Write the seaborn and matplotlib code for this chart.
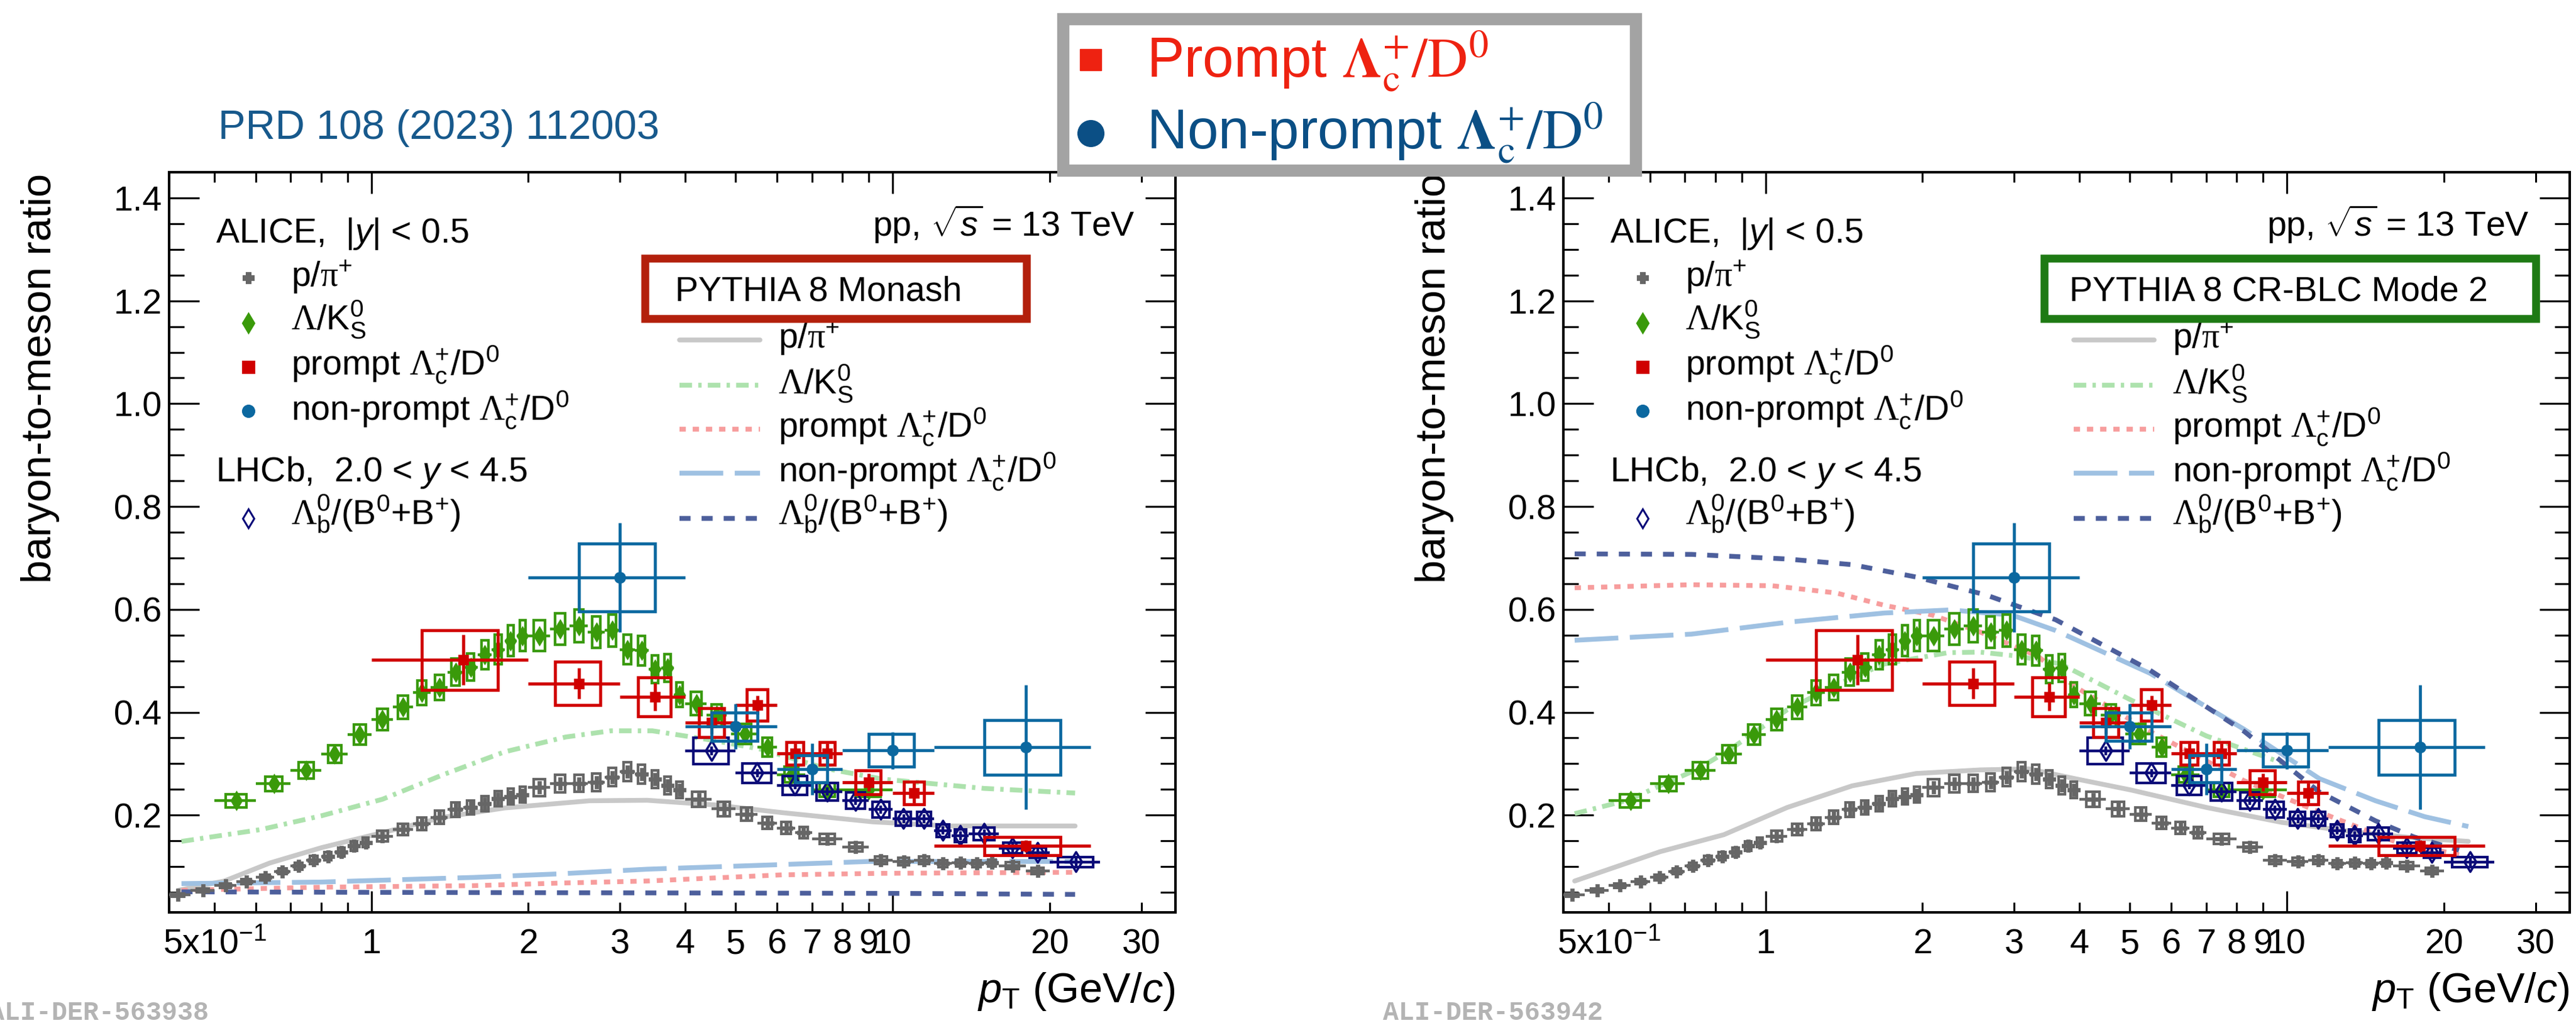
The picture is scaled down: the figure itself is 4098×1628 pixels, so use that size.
import numpy as np
import pandas as pd
import matplotlib
matplotlib.use("Agg")
import matplotlib.pyplot as plt
from matplotlib.patches import Rectangle
from matplotlib.lines import Line2D
from matplotlib.ticker import FixedLocator, FixedFormatter, MultipleLocator, FormatStrFormatter
import seaborn as sns

# ---------------- measured ratios ----------------
# ALICE p/pi+ (|y|<0.5)
pi_pt = [0.425, 0.475, 0.525, 0.575, 0.625, 0.675, 0.725, 0.775, 0.825, 0.875, 0.925, 0.975,
         1.05, 1.15, 1.25, 1.35, 1.45, 1.55, 1.65, 1.75, 1.85, 1.95,
         2.1, 2.3, 2.5, 2.7, 2.9, 3.1, 3.3, 3.5, 3.7, 3.9,
         4.25, 4.75, 5.25, 5.75, 6.25, 6.75,
         7.5, 8.5, 9.5, 10.5, 11.5, 12.5, 13.5, 14.5, 15.5, 17.0, 19.0]
pi_val = [0.045, 0.054, 0.063, 0.071, 0.079, 0.091, 0.101, 0.113, 0.120, 0.128, 0.140, 0.147,
          0.159, 0.172, 0.183, 0.196, 0.211, 0.215, 0.222, 0.232, 0.236, 0.240,
          0.254, 0.261, 0.262, 0.264, 0.274, 0.285, 0.280, 0.270, 0.258, 0.249,
          0.231, 0.212, 0.202, 0.185, 0.175, 0.166,
          0.154, 0.138, 0.112, 0.110, 0.112, 0.106, 0.107, 0.106, 0.107, 0.102, 0.092]
pi_xerr = [0.025] * 12 + [0.05] * 10 + [0.1] * 10 + [0.25] * 6 + [0.5] * 9 + [1.0] * 2
pi_sys_rel = 0.065

# ALICE Lambda/K0S
lk_pt = [0.55, 0.65, 0.75, 0.85, 0.95, 1.05, 1.15, 1.25, 1.35, 1.45, 1.55, 1.65, 1.75, 1.85, 1.95,
         2.1, 2.3, 2.5, 2.7, 2.9, 3.1, 3.3, 3.5, 3.7, 3.9,
         4.2, 4.6, 5.2, 5.75, 6.4, 7.5, 9.0]
lk_val = [0.228, 0.261, 0.287, 0.319, 0.357, 0.386, 0.410, 0.438, 0.448, 0.478, 0.488, 0.512, 0.522, 0.539, 0.549,
          0.549, 0.562, 0.568, 0.556, 0.559, 0.522, 0.520, 0.484, 0.486, 0.434,
          0.417, 0.394, 0.358, 0.332, 0.279, 0.249, 0.249]
lk_xerr = [0.05] * 15 + [0.1] * 10 + [0.2, 0.2, 0.3, 0.25, 0.4, 0.5, 1.0]
lk_sys_rel = 0.055

# ALICE prompt Lambda_c+/D0
pr_pt = [1.5, 2.5, 3.5, 4.5, 5.5, 6.5, 7.5, 9.0, 11.0, 18.0]
pr_xerr = [0.5, 0.5, 0.5, 0.5, 0.5, 0.5, 0.5, 1.0, 1.0, 6.0]
pr_val = [0.502, 0.456, 0.430, 0.380, 0.414, 0.320, 0.320, 0.264, 0.243, 0.140]
pr_stat = [0.049, 0.030, 0.027, 0.022, 0.018, 0.020, 0.020, 0.017, 0.020, 0.012]
pr_sys = [0.058, 0.042, 0.038, 0.028, 0.031, 0.022, 0.022, 0.023, 0.022, 0.018]

# ALICE non-prompt Lambda_c+/D0
np_pt = [3.0, 5.0, 7.0, 10.0, 18.0]
np_xerr = [1.0, 1.0, 1.0, 2.0, 6.0]
np_val = [0.662, 0.372, 0.290, 0.326, 0.332]
np_stat = [0.106, 0.044, 0.050, 0.036, 0.121]
np_sys = [0.066, 0.028, 0.026, 0.032, 0.053]

# LHCb Lambda_b0/(B0+B+)
lb_pt = [4.5, 5.5, 6.5, 7.5, 8.5, 9.5, 10.5, 11.5, 12.5, 13.5, 15.0, 17.0, 19.0, 22.5]
lb_xerr = [0.5] * 10 + [1.0, 1.0, 1.0, 2.5]
lb_val = [0.325, 0.282, 0.258, 0.246, 0.228, 0.211, 0.193, 0.193, 0.170, 0.160, 0.164, 0.136, 0.127, 0.109]
lb_stat = [0.008] * 14
lb_sys = [0.026, 0.019, 0.018, 0.017, 0.016, 0.015, 0.014, 0.014, 0.012, 0.012, 0.012, 0.010, 0.010, 0.010]

# ---------------- PYTHIA 8 Monash ----------------
mon_pi_pt = [0.426, 0.522, 0.638, 0.803, 1.05, 1.375, 1.80, 2.62, 3.38, 4.55, 6.13, 9.17, 12.9, 22.4]
mon_pi_val = [0.054, 0.072, 0.107, 0.137, 0.166, 0.196, 0.214, 0.228, 0.229, 0.220, 0.205, 0.187, 0.179, 0.179]
mon_lk_pt = [0.432, 0.613, 0.803, 1.05, 1.375, 1.80, 2.36, 2.88, 3.46, 4.55, 5.6, 7.5, 9.59, 15.0, 22.4]
mon_lk_val = [0.149, 0.172, 0.199, 0.231, 0.279, 0.323, 0.352, 0.364, 0.364, 0.345, 0.328, 0.290, 0.270, 0.252, 0.243]
mon_pr_pt = [0.432, 0.803, 1.57, 2.3, 3.38, 6.13, 9.6, 22.4]
mon_pr_val = [0.054, 0.060, 0.063, 0.068, 0.072, 0.084, 0.087, 0.089]
mon_np_pt = [0.432, 0.803, 1.57, 2.3, 3.38, 6.13, 9.0, 22.4]
mon_np_val = [0.067, 0.070, 0.079, 0.086, 0.095, 0.104, 0.110, 0.110]
mon_lb_pt = [0.432, 1.0, 3.0, 10.0, 22.4]
mon_lb_val = [0.051, 0.050, 0.049, 0.048, 0.046]

# ---------------- PYTHIA 8 CR-BLC Mode 2 ----------------
cr_pi_pt = [0.43, 0.627, 0.831, 1.10, 1.465, 1.944, 2.58, 3.2, 3.92, 5.02, 7.01, 9.78, 13.6, 17.5, 22.3]
cr_pi_val = [0.072, 0.129, 0.162, 0.215, 0.257, 0.281, 0.288, 0.290, 0.271, 0.249, 0.215, 0.186, 0.167, 0.156, 0.149]
cr_lk_pt = [0.43, 0.543, 0.742, 0.855, 1.10, 1.385, 1.689, 2.24, 2.58, 3.06, 3.68, 5.02, 7.01, 9.78]
cr_lk_val = [0.203, 0.229, 0.290, 0.328, 0.405, 0.456, 0.494, 0.516, 0.517, 0.509, 0.494, 0.424, 0.354, 0.302]
cr_pr_pt = [0.43, 0.721, 1.03, 1.365, 1.69, 2.09, 2.58, 3.33, 3.92, 5.46, 8.28, 11.55, 16.1, 21.4]
cr_pr_val = [0.642, 0.648, 0.646, 0.632, 0.608, 0.589, 0.556, 0.509, 0.450, 0.363, 0.267, 0.206, 0.149, 0.123]
cr_np_pt = [0.43, 0.721, 1.10, 1.69, 2.26, 2.97, 3.60, 5.46, 8.28, 11.55, 14.8, 18.4, 22.3]
cr_np_val = [0.540, 0.552, 0.575, 0.593, 0.599, 0.589, 0.559, 0.476, 0.367, 0.271, 0.228, 0.197, 0.178]
cr_lb_pt = [0.43, 0.721, 1.10, 1.465, 1.944, 2.65, 3.60, 5.46, 8.28, 11.55, 14.8, 17.5, 21.4]
cr_lb_val = [0.708, 0.707, 0.698, 0.687, 0.663, 0.628, 0.580, 0.482, 0.363, 0.245, 0.189, 0.158, 0.132]

# axis tick labels
x_major = [1, 10]
x_major_lab = ["1", "10"]
x_minor = [0.5, 0.6, 0.7, 0.8, 0.9, 2, 3, 4, 5, 6, 7, 8, 9, 20, 30]
x_minor_lab = [r"5x10$^{-1}$", "", "", "", "", "2", "3", "4", "5", "6", "7", "8", "9", "20", "30"]

# ---------------- style ----------------
sns.set_theme(style="ticks")
plt.rcParams.update({
    "font.family": ["Liberation Sans", "DejaVu Sans"],
    "mathtext.fontset": "custom",
    "mathtext.rm": "Liberation Sans",
    "mathtext.it": "Liberation Sans:italic",
    "mathtext.bf": "Liberation Sans:bold",
    "mathtext.cal": "Liberation Serif",
    "axes.linewidth": 2.9,
    "axes.edgecolor": "black",
    "text.color": "black",
    "xtick.color": "black",
    "ytick.color": "black",
    "axes.facecolor": "white",
    "figure.facecolor": "white",
})

C_PI, C_LK, C_PR, C_NP, C_LB = "#666666", "#3a9a0a", "#d00000", "#0b68a0", "#0a0a78"
M_PI, M_LK, M_PR, M_NP, M_LB = "#c8c8c8", "#ade2ad", "#f79d9d", "#9fc1e2", "#4d5f9c"
LS = {"pi": "-", "lk": (0, (2.6, 1.3, 0.7, 1.3)), "pr": (0, (1.3, 1.45)),
      "np": (0, (9.1, 2.4)), "lb": (0, (2.3, 2.3))}
MODEL_LW = 5.5

W, H = 4098, 1628
fig = plt.figure(figsize=(W / 100, H / 100), dpi=100)


def fx(px):
    return px / W


def fy(py):
    return 1 - py / H


ax_l = fig.add_axes([fx(269), fy(1452), 1601 / W, 1178 / H])
ax_r = fig.add_axes([fx(2487), fy(1452), 1601 / W, 1178 / H])


def draw_model(ax, pt, val, color, ls):
    sns.lineplot(x=pt, y=val, ax=ax, color=color, linestyle=ls, linewidth=MODEL_LW,
                 estimator=None, errorbar=None, sort=False, zorder=2)


def draw_data(ax, pt, val, xerr, stat, sys, color, marker, msize, box_frac, z,
              hollow=False, lw_err=3.2, lw_box=3.0):
    for x, y, xe, sy in zip(pt, val, xerr, sys):
        half = box_frac * xe
        ax.add_patch(Rectangle((x - half, y - sy), 2 * half, 2 * sy, fill=False,
                               edgecolor=color, linewidth=lw_box, zorder=z))
    ax.errorbar(pt, val, xerr=xerr, yerr=stat, fmt="none", ecolor=color,
                elinewidth=lw_err, capsize=0, zorder=z + 0.1)
    df = pd.DataFrame({"pt": pt, "val": val})
    if hollow:
        sns.scatterplot(data=df, x="pt", y="val", ax=ax, marker=marker, s=msize ** 2,
                        facecolor="none", edgecolor=color, linewidth=2.6, zorder=z + 0.2)
    else:
        sns.scatterplot(data=df, x="pt", y="val", ax=ax, marker=marker, s=msize ** 2,
                        color=color, edgecolor=color, linewidth=0.5, zorder=z + 0.2)


def style_axes(ax):
    ax.set_xscale("log")
    ax.set_xlim(0.409, 34.9)
    ax.set_ylim(0.011, 1.45)
    ax.xaxis.set_major_locator(FixedLocator(x_major))
    ax.xaxis.set_major_formatter(FixedFormatter(x_major_lab))
    ax.xaxis.set_minor_locator(FixedLocator(x_minor))
    ax.xaxis.set_minor_formatter(FixedFormatter(x_minor_lab))
    ax.yaxis.set_major_locator(MultipleLocator(0.2))
    ax.yaxis.set_major_formatter(FormatStrFormatter("%.1f"))
    ax.yaxis.set_minor_locator(MultipleLocator(0.05))
    ax.tick_params(axis="x", which="major", direction="in", length=24.5, width=2.2,
                   top=True, bottom=True, labelsize=40, pad=18)
    ax.tick_params(axis="x", which="minor", direction="in", length=11.5, width=2.2,
                   top=True, bottom=True, labelsize=40, pad=18)
    ax.tick_params(axis="y", which="major", direction="in", length=34.5, width=2.2,
                   left=True, right=True, labelsize=40, pad=8)
    ax.tick_params(axis="y", which="minor", direction="in", length=17.3, width=2.2,
                   left=True, right=True)
    ax.set_xlabel("")
    ax.set_ylabel("")
    for s in ax.spines.values():
        s.set_visible(True)
        s.set_linewidth(2.9)
        s.set_color("black")


LAM = r"\mathcal{\Lambda}"
LB_TXT = r"$" + LAM + r"_{\mathrm{b}}^{0}/(\mathrm{B}^{0}{+}\mathrm{B}^{+})$"
legend_data = [
    ("P", C_PI, 11, False, r"p/$\mathcal{\pi}^{+}$", 0.857, 0.8455),
    ("d", C_LK, 15, False, r"$" + LAM + r"/\mathrm{K}^{0}_{\mathrm{S}}$", 0.796, 0.787),
    ("s", C_PR, 13, False, r"prompt $" + LAM + r"_{\mathrm{c}}^{+}/\mathrm{D}^{0}$", 0.737, 0.726),
    ("o", C_NP, 13, False, r"non-prompt $" + LAM + r"_{\mathrm{c}}^{+}/\mathrm{D}^{0}$", 0.677, 0.6655),
]
lb_legend = ("d", C_LB, 15, True, LB_TXT, 0.532, 0.5238)

model_legend = [
    (M_PI, LS["pi"], r"p/$\mathcal{\pi}^{+}$", 0.773, 0.762),
    (M_LK, LS["lk"], r"$" + LAM + r"/\mathrm{K}^{0}_{\mathrm{S}}$", 0.712, 0.701),
    (M_PR, LS["pr"], r"prompt $" + LAM + r"_{\mathrm{c}}^{+}/\mathrm{D}^{0}$", 0.653, 0.642),
    (M_NP, LS["np"], r"non-prompt $" + LAM + r"_{\mathrm{c}}^{+}/\mathrm{D}^{0}$", 0.593, 0.582),
    (M_LB, LS["lb"], LB_TXT, 0.532, 0.524),
]

panels = [
    (ax_l, "PYTHIA 8 Monash", "#b3200c", 0.473, 0.379,
     [(mon_pi_pt, mon_pi_val, M_PI, LS["pi"]), (mon_lk_pt, mon_lk_val, M_LK, LS["lk"]),
      (mon_pr_pt, mon_pr_val, M_PR, LS["pr"]), (mon_np_pt, mon_np_val, M_NP, LS["np"]),
      (mon_lb_pt, mon_lb_val, M_LB, LS["lb"])]),
    (ax_r, "PYTHIA 8 CR-BLC Mode 2", "#1e7a14", 0.478, 0.488,
     [(cr_pi_pt, cr_pi_val, M_PI, LS["pi"]), (cr_lk_pt, cr_lk_val, M_LK, LS["lk"]),
      (cr_pr_pt, cr_pr_val, M_PR, LS["pr"]), (cr_np_pt, cr_np_val, M_NP, LS["np"]),
      (cr_lb_pt, cr_lb_val, M_LB, LS["lb"])]),
]

for ax, box_text, box_color, box_x, box_w, models in panels:
    for pt, val, col, ls in models:
        draw_model(ax, pt, val, col, ls)

    pi_sys = [v * pi_sys_rel for v in pi_val]
    lk_sys = [v * lk_sys_rel for v in lk_val]
    draw_data(ax, pi_pt, pi_val, pi_xerr, None, pi_sys, C_PI, "P", 15, 0.5, 3)
    draw_data(ax, lk_pt, lk_val, lk_xerr, None, lk_sys, C_LK, "d", 16, 0.5, 4)
    draw_data(ax, lb_pt, lb_val, lb_xerr, lb_stat, lb_sys, C_LB, "d", 16, 0.7, 5, hollow=True)
    draw_data(ax, pr_pt, pr_val, pr_xerr, pr_stat, pr_sys, C_PR, "s", 12, 0.5, 6, lw_err=3.6, lw_box=3.4)
    draw_data(ax, np_pt, np_val, np_xerr, np_stat, np_sys, C_NP, "o", 13, 0.5, 7, lw_err=3.4, lw_box=3.4)

    style_axes(ax)

    # measurement legend
    ax.text(0.046, 0.905, r"ALICE,  |$y$| < 0.5", transform=ax.transAxes, fontsize=40, va="baseline")
    for mk, col, ms, hollow, lab, ym, yt in legend_data + [lb_legend]:
        ax.plot([0.079], [ym], transform=ax.transAxes, marker=mk, ms=ms, color=col,
                mfc="none" if hollow else col, mew=2.2, ls="none", clip_on=False, zorder=8)
        ax.text(0.121, yt, lab, transform=ax.transAxes, fontsize=40, va="baseline")
    ax.text(0.046, 0.5823, r"LHCb,  2.0 < $y$ < 4.5", transform=ax.transAxes, fontsize=40, va="baseline")
    ax.text(0.96, 0.913, r"pp, $\sqrt{s}$ = 13 TeV", transform=ax.transAxes, fontsize=40,
            ha="right", va="baseline")

    # model legend
    ax.add_patch(Rectangle((box_x, 0.802), box_w, 0.082, transform=ax.transAxes, fill=False,
                           edgecolor=box_color, linewidth=9, zorder=8, clip_on=False))
    ax.text(0.503, 0.838, box_text, transform=ax.transAxes, fontsize=40, va="center", zorder=9)
    for col, ls, lab, yl, yt in model_legend:
        ax.plot([0.507, 0.587], [yl, yl], transform=ax.transAxes, color=col, ls=ls,
                lw=MODEL_LW, clip_on=False, zorder=8)
        ax.text(0.605, yt, lab, transform=ax.transAxes, fontsize=40, va="baseline")

# axis titles
for x0 in (64, 2282):
    fig.text(fx(x0), fy(276), "baryon-to-meson ratio", rotation=90, ha="center", va="top", fontsize=48)
for x1 in (1870, 4088):
    fig.text(fx(x1), fy(1578), r"$p_{\rm T}$ (GeV/$c$)", ha="right", va="center", fontsize=48)

# publication reference and figure ids
fig.text(fx(347), fy(204), "PRD 108 (2023) 112003", color="#17598c", fontsize=47, va="center")
fig.text(fx(-18), fy(1612), "ALI-DER-563938", family="Liberation Mono", weight="bold",
         fontsize=30, color="#b4b4b4", va="center")
fig.text(fx(2200), fy(1612), "ALI-DER-563942", family="Liberation Mono", weight="bold",
         fontsize=30, color="#b4b4b4", va="center")

# shared legend box on top
fig.add_artist(Rectangle((fx(1691), fy(271)), 911 / W, (271 - 30) / H, transform=fig.transFigure,
                         facecolor="white", edgecolor="#a3a3a3", linewidth=14, zorder=10))
fig.add_artist(Line2D([fx(1735)], [fy(95)], marker="s", ms=25, color="#ee2211", ls="none",
                      transform=fig.transFigure, zorder=11))
fig.add_artist(Line2D([fx(1735)], [fy(212)], marker="o", ms=30, color="#0b4f85", ls="none",
                      transform=fig.transFigure, zorder=11))
fig.text(fx(1824), fy(98), r"Prompt $\mathbf{\Lambda}_{\mathrm{c}}^{+}/\mathrm{D}^{0}$",
         color="#ee2211", fontsize=64, va="center", math_fontfamily="stix", zorder=11)
fig.text(fx(1824), fy(212), r"Non-prompt $\mathbf{\Lambda}_{\mathrm{c}}^{+}/\mathrm{D}^{0}$",
         color="#0b4f85", fontsize=64, va="center", math_fontfamily="stix", zorder=11)

fig.savefig("out.png", dpi=100)
